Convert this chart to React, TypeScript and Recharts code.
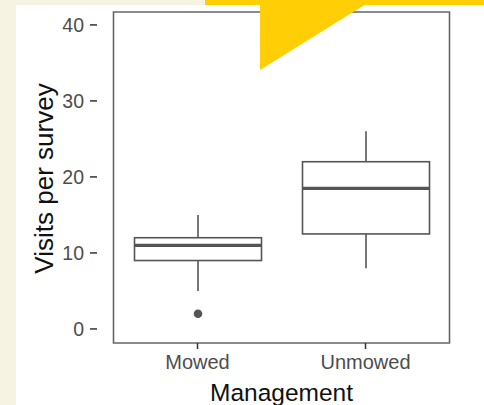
import React from 'react'
import { ComposedChart, Bar, XAxis, YAxis, ReferenceArea } from 'recharts'

const groups = ['Mowed', 'Unmowed']
const whiskerLow = [5, 8]
const q1 = [9, 12.5]
const median = [11, 18.5]
const q3 = [12, 22]
const whiskerHigh = [15, 26]
const outliers: number[][] = [[2], []]
const yTicks = [0, 10, 20, 30, 40]

const data = groups.map((name, i) => ({
  name,
  range: [whiskerLow[i], whiskerHigh[i]],
  lo: whiskerLow[i],
  q1: q1[i],
  med: median[i],
  q3: q3[i],
  hi: whiskerHigh[i],
  out: outliers[i],
}))

const LINE = '#555555'
const FONT = '"Liberation Sans", Arial, sans-serif'

const BoxShape = (props: any) => {
  const { x, y, width, height, payload } = props
  const top = Math.min(y, y + height)
  const h = Math.abs(height)
  const { lo, hi } = payload
  // map a value to pixels using the bar's own (scaled) extent
  const py = (v: number) => top + (h * (hi - v)) / (hi - lo)
  const cx = x + width / 2
  return (
    <g>
      <line x1={cx} x2={cx} y1={py(hi)} y2={py(payload.q3)} stroke={LINE} strokeWidth={1.6} />
      <line x1={cx} x2={cx} y1={py(payload.q1)} y2={py(lo)} stroke={LINE} strokeWidth={1.6} />
      <rect x={x} y={py(payload.q3)} width={width} height={py(payload.q1) - py(payload.q3)}
        fill="#fff" stroke={LINE} strokeWidth={1.6} />
      <line x1={x} x2={x + width} y1={py(payload.med)} y2={py(payload.med)} stroke={LINE} strokeWidth={3.2} />
      {payload.out.map((v: number, k: number) => (
        <circle key={k} cx={cx} cy={py(v)} r={4.3} fill={LINE} />
      ))}
    </g>
  )
}

const XTitle = ({ viewBox }: any) => (
  <text x={viewBox.x + viewBox.width / 2} y={401} textAnchor="middle"
    fontSize={24.5} fill="#111" fontFamily={FONT}>Management</text>
)

const YTitle = ({ viewBox }: any) => {
  const cy = viewBox.y + viewBox.height / 2 + 1
  return (
    <text x={53} y={cy} transform={`rotate(-90 53 ${cy})`} textAnchor="middle"
      fontSize={26} fill="#111" fontFamily={FONT}>Visits per survey</text>
  )
}

export default function App() {
  return (
    <div style={{ position: 'fixed', left: 0, top: 0, width: 484, height: 405, background: '#F6F3E2', overflow: 'hidden' }}>
      <div style={{ position: 'absolute', left: 16, top: 5, width: 468, height: 400, background: '#fff' }} />
      <div style={{ position: 'absolute', left: 0, top: 0 }}>
        <ComposedChart width={484} height={405} data={data}
          margin={{ top: 12, right: 18, bottom: 0, left: 0 }} style={{ fontFamily: FONT }}>
          <XAxis dataKey="name" type="category" height={62} padding={{ left: 16.5, right: 16.5 }}
            axisLine={false} tickSize={6} tickMargin={6} tickLine={{ stroke: '#333', strokeWidth: 1.5 }}
            tick={{ fontSize: 20, fill: '#4d4d4d' }} label={<XTitle />} />
          <YAxis type="number" width={97} domain={[-1.85, 41.7]} ticks={yTicks} allowDataOverflow
            axisLine={false} tickSize={7} tickMargin={6} tickLine={{ stroke: '#333', strokeWidth: 1.5 }}
            tick={{ fontSize: 19.5, fill: '#4d4d4d' }} label={<YTitle />} />
          <ReferenceArea y1={-1.85} y2={41.7} fill="none" stroke="#666" strokeWidth={1.6} ifOverflow="visible" />
          <Bar dataKey="range" barSize={127} shape={<BoxShape />} isAnimationActive={false} />
        </ComposedChart>
      </div>
      <svg width={484} height={405} style={{ position: 'absolute', left: 0, top: 0, pointerEvents: 'none' }}>
        <rect x={205} y={0} width={279} height={5} fill="#FFCE05" />
        <polygon points="260,4 366,4 260,70" fill="#FFCE05" />
      </svg>
    </div>
  )
}
